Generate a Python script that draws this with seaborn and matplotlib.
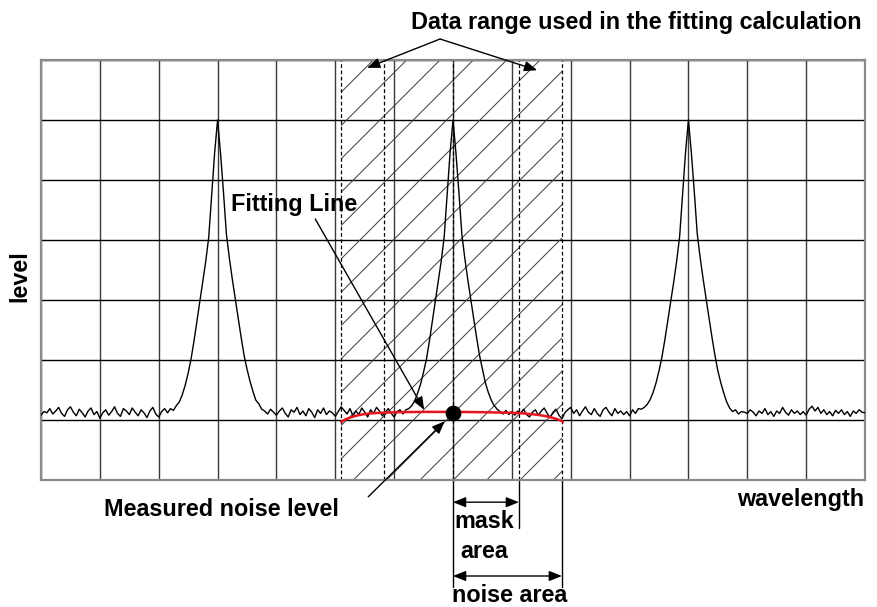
import numpy as np
import seaborn as sns
import matplotlib.pyplot as plt

# measured trace, 20 samples per grid division (x runs 0..14, y runs 0..7)
level_cols = [
    [1.08, 1.14, 1.12, 1.19, 1.10, 1.15, 1.21, 1.11, 1.06, 1.17, 1.22, 1.13, 1.07, 1.18, 1.12, 1.05, 1.15, 1.20, 1.09, 1.14],
    [1.03, 1.12, 1.17, 1.08, 1.14, 1.22, 1.11, 1.06, 1.19, 1.15, 1.09, 1.20, 1.13, 1.07, 1.17, 1.12, 1.04, 1.15, 1.21, 1.10],
    [1.05, 1.14, 1.19, 1.12, 1.19, 1.16, 1.24, 1.30, 1.42, 1.58, 1.78, 2.02, 2.32, 2.65, 2.98, 3.30, 3.65, 4.05, 4.75, 5.45],
    [6.00, 5.45, 4.80, 4.10, 3.70, 3.35, 3.02, 2.70, 2.38, 2.08, 1.85, 1.65, 1.48, 1.33, 1.27, 1.18, 1.15, 1.10, 1.18, 1.13],
    [1.08, 1.15, 1.20, 1.11, 1.05, 1.17, 1.13, 1.21, 1.09, 1.15, 1.07, 1.19, 1.13, 1.04, 1.17, 1.11, 1.20, 1.09, 1.15, 1.12],
    [1.06, 1.14, 1.22, 1.16, 1.10, 1.19, 1.07, 1.15, 1.09, 1.20, 1.13, 1.05, 1.17, 1.11, 1.21, 1.15, 1.07, 1.13, 1.19, 1.11],
    [1.05, 1.14, 1.17, 1.10, 1.17, 1.19, 1.24, 1.32, 1.45, 1.60, 1.80, 2.02, 2.32, 2.65, 2.98, 3.30, 3.65, 4.05, 4.75, 5.45],
    [6.00, 5.45, 4.80, 4.10, 3.70, 3.35, 3.02, 2.70, 2.38, 2.08, 1.85, 1.62, 1.46, 1.33, 1.24, 1.18, 1.14, 1.10, 1.16, 1.09],
    [1.14, 1.08, 1.15, 1.11, 1.18, 1.09, 1.05, 1.13, 1.17, 1.08, 1.15, 1.20, 1.11, 1.04, 1.13, 1.18, 1.08, 1.02, 1.12, 1.17],
    [1.21, 1.11, 1.17, 1.07, 1.15, 1.22, 1.13, 1.09, 1.19, 1.11, 1.06, 1.17, 1.21, 1.13, 1.07, 1.19, 1.11, 1.15, 1.09, 1.14],
    [1.07, 1.17, 1.11, 1.19, 1.18, 1.21, 1.26, 1.34, 1.46, 1.62, 1.82, 2.05, 2.34, 2.66, 2.98, 3.30, 3.65, 4.05, 4.75, 5.45],
    [6.00, 5.45, 4.80, 4.10, 3.70, 3.35, 3.02, 2.70, 2.38, 2.08, 1.82, 1.62, 1.45, 1.30, 1.20, 1.14, 1.17, 1.10, 1.14, 1.13],
    [1.11, 1.17, 1.13, 1.07, 1.15, 1.11, 1.19, 1.09, 1.14, 1.06, 1.15, 1.11, 1.21, 1.13, 1.08, 1.17, 1.11, 1.15, 1.09, 1.14],
    [1.08, 1.18, 1.23, 1.15, 1.21, 1.11, 1.17, 1.09, 1.14, 1.07, 1.16, 1.11, 1.17, 1.09, 1.14, 1.06, 1.15, 1.11, 1.17, 1.13],
]
level = [v for col in level_cols for v in col] + [1.12]
wavelength = np.linspace(0, 14, len(level))

# fitting line over the noise area
fit_x = [5.10, 5.17, 5.25, 5.35, 5.47, 5.60, 5.76, 6.05, 6.50, 7.00, 7.50, 8.02, 8.20, 8.31, 8.45, 8.60, 8.68, 8.75, 8.82, 8.87]
fit_y = [0.97, 1.01, 1.04, 1.07, 1.095, 1.11, 1.12, 1.13, 1.135, 1.135, 1.13, 1.12, 1.11, 1.10, 1.085, 1.06, 1.04, 1.02, 0.995, 0.97]

noise_x = [7.0]
noise_y = [1.12]
noise_area = (5.10, 8.85)
mask_area = (5.83, 8.12)

sns.set_style('white')
plt.rcParams['font.family'] = ['Liberation Sans', 'DejaVu Sans']
plt.rcParams['hatch.linewidth'] = 0.7

fig = plt.figure(figsize=(8.77, 6.07), dpi=100)
ax = fig.add_axes([41 / 877, 127 / 607, 824 / 877, 420 / 607])

# hatched data range and the dashed borders
ax.axvspan(noise_area[0], noise_area[1], facecolor='none', edgecolor='#3c3c3c',
           hatch='/', linewidth=0, zorder=1)
for xv in [noise_area[0], mask_area[0], noise_x[0], mask_area[1], noise_area[1]]:
    ax.axvline(xv, color='black', lw=0.9, ls=(0, (3, 2)), zorder=2)

sns.lineplot(x=wavelength, y=level, color='black', lw=1.0, ax=ax, zorder=3)
sns.lineplot(x=fit_x, y=fit_y, color='#e8141c', lw=1.8, ax=ax, zorder=4)
sns.scatterplot(x=noise_x, y=noise_y, color='black', s=110, ax=ax, zorder=5,
                edgecolor='black')

ax.set_xlim(0, 14)
ax.set_ylim(0, 7)
ax.set_xticks(range(15))
ax.set_yticks(range(8))
ax.set_xticklabels([])
ax.set_yticklabels([])
ax.tick_params(length=0)
ax.xaxis.grid(True, color='#3a3a3a', lw=1.0)
ax.yaxis.grid(True, color='black', lw=1.0)
ax.set_axisbelow(True)
ax.set_xlabel('')
ax.set_ylabel('')
for sp in ax.spines.values():
    sp.set_color('#8a8a8a')
    sp.set_linewidth(1.6)

fs = 16.8
tkw = dict(fontsize=fs, fontweight='bold', color='black', clip_on=False)
head = dict(arrowstyle='-|>,head_length=0.55,head_width=0.22', color='black',
            lw=1.0, shrinkA=0, shrinkB=0, mutation_scale=14)
dim = dict(arrowstyle='<|-|>,head_length=0.55,head_width=0.22', color='black',
           lw=1.0, shrinkA=0, shrinkB=0, mutation_scale=14)

ax.text(13.95, 7.52, 'Data range used in the fitting calculation', ha='right', va='baseline', **tkw)
for tip in [(5.54, 6.87), (8.43, 6.83)]:
    ax.annotate('', xy=tip, xytext=(6.78, 7.35), arrowprops=head, annotation_clip=False)

ax.text(3.22, 4.49, 'Fitting Line', ha='left', va='baseline', **tkw)
ax.annotate('', xy=(6.51, 1.17), xytext=(4.66, 4.35), arrowprops=head, annotation_clip=False)

ax.text(1.07, -0.6, 'Measured noise level', ha='left', va='baseline', **tkw)
ax.annotate('', xy=(6.86, 0.98), xytext=(5.56, -0.28), arrowprops=head, annotation_clip=False)

ax.text(-0.36, 3.4, 'level', ha='center', va='center', rotation=90, **tkw)
ax.text(13.98, -0.43, 'wavelength', ha='right', va='baseline', **tkw)

# dimension lines below the axes
ax.plot([noise_x[0], noise_x[0]], [0, -1.78], color='black', lw=1.0, clip_on=False)
ax.plot([mask_area[1], mask_area[1]], [0, -0.8], color='black', lw=1.0, clip_on=False)
ax.plot([noise_area[1], noise_area[1]], [0, -1.78], color='black', lw=1.0, clip_on=False)
ax.annotate('', xy=(mask_area[1], -0.37), xytext=(noise_x[0], -0.37), arrowprops=dim, annotation_clip=False)
ax.annotate('', xy=(noise_area[1], -1.6), xytext=(noise_x[0], -1.6), arrowprops=dim, annotation_clip=False)
ax.text(7.03, -0.8, 'mask', ha='left', va='baseline', **tkw)
ax.text(7.12, -1.3, 'area', ha='left', va='baseline', **tkw)
ax.text(6.98, -2.03, 'noise area', ha='left', va='baseline', **tkw)

fig.savefig('out.png', dpi=100)
